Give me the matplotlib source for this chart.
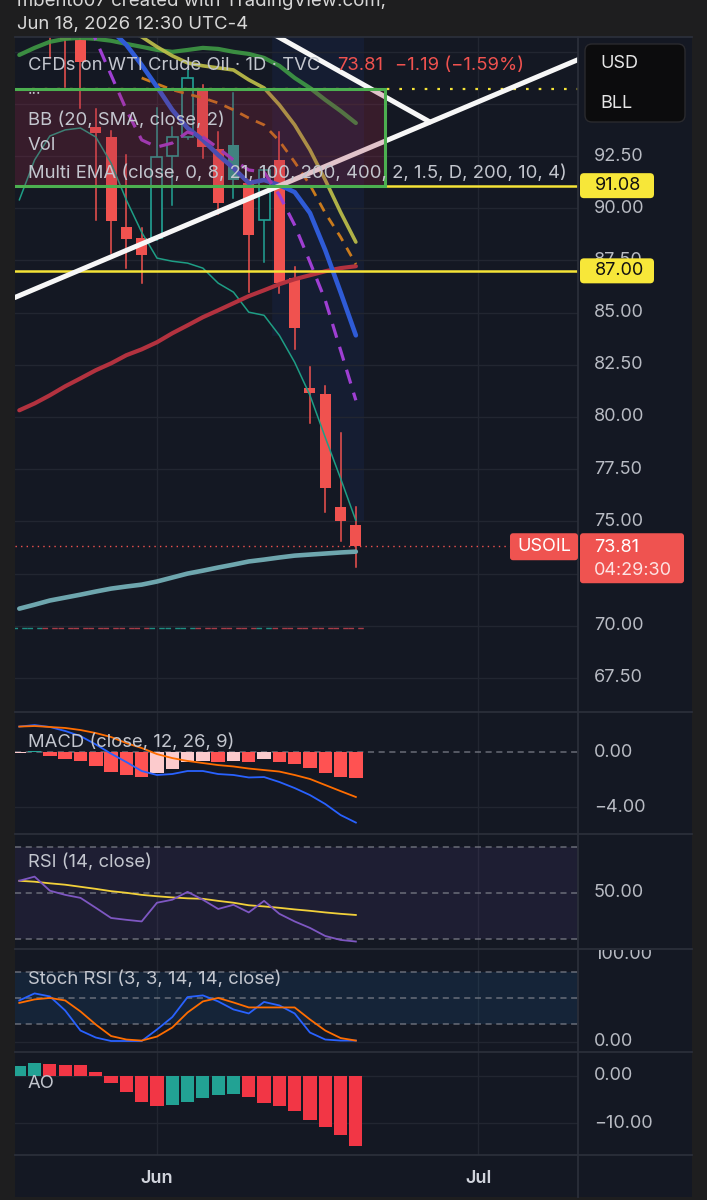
import matplotlib.pyplot as plt
from matplotlib.patches import Rectangle, FancyBboxPatch
from matplotlib.lines import Line2D
from matplotlib.transforms import Affine2D, Bbox, blended_transform_factory

plt.rcParams['font.family'] = ['Inter', 'DejaVu Sans']

# ---------------- data (x = trading-day index, 0 = Jun 1 2026) ----------------
first_idx = -9          # first bar index that has indicator values
candle_first = -7       # first candle drawn (earlier ones are above the view)

opens = [99.5, 98.8, 98.06, 93.9, 93.41, 89.1, 88.57, 88.57, 92.5, 93.41, 95.76,
         92.84, 93.03, 91.2, 89.43, 92.31, 86.65, 81.37, 81.08, 75.67, 74.85]
highs = [100.0, 99.5, 98.3, 94.75, 93.7, 92.55, 89.05, 94.8, 93.9, 96.6, 95.9,
         93.65, 95.5, 91.35, 92.0, 93.65, 87.2, 82.38, 81.5, 79.21, 75.7]
lows = [97.19, 95.8, 94.8, 89.43, 87.85, 87.14, 86.42, 88.5, 90.15, 93.3, 92.4,
        89.7, 90.5, 85.98, 87.4, 85.94, 83.24, 79.7, 75.47, 74.08, 72.8]
closes = [98.8, 98.05, 97.0, 93.6, 89.38, 88.53, 87.76, 92.45, 93.41, 96.24, 92.93,
          90.25, 91.35, 88.7, 91.83, 86.41, 84.25, 81.13, 76.58, 75.0, 73.81]
last_price = 73.81

# Multi EMA / BB lines (start index, values)
ema_green = (-9, [97.34, 97.68, 97.97, 98.11, 98.16, 98.11, 98.02, 97.87, 97.73, 97.58, 97.49, 97.58,
                  97.68, 97.63, 97.49, 97.39, 97.20, 96.82, 96.24, 95.76, 95.19, 94.66, 94.08])
ema_olive = (-2, [98.54, 98.21, 97.73, 97.30, 96.96, 96.82, 96.72, 96.62, 96.15, 95.76, 94.95,
                  93.99, 92.79, 91.35, 89.81, 88.38])
ema_orange = (-1, [96.24, 95.95, 95.67, 95.47, 95.28, 95.04, 94.71, 94.32, 93.99, 93.22, 92.21,
                   91.11, 89.77, 88.62, 87.32])
ema_blue = (-3, [98.54, 97.82, 96.86, 95.81, 94.71, 93.84, 93.27, 92.55, 91.92, 91.21, 91.35,
                 91.11, 90.77, 89.77, 87.99, 85.98, 83.91])
ema_purple = (-5, [99.74, 98.06, 96.38, 94.71, 93.27, 92.93, 93.12, 93.65, 93.41, 92.88, 92.31,
                   91.83, 91.73, 90.63, 89.19, 87.42, 85.59, 83.20, 80.80])
ema_red = (-9, [80.32, 80.65, 81.04, 81.47, 81.85, 82.24, 82.57, 82.96, 83.24, 83.58, 84.01, 84.39,
                84.78, 85.11, 85.45, 85.79, 86.07, 86.36, 86.60, 86.79, 86.98, 87.13, 87.22])
ema_slate = (-9, [70.82, 71.01, 71.21, 71.35, 71.49, 71.64, 71.78, 71.88, 71.97, 72.12, 72.31, 72.50,
                  72.64, 72.79, 72.93, 73.08, 73.17, 73.27, 73.36, 73.41, 73.46, 73.51, 73.55])
bb_lower = (-9, [90.39, 92.31, 93.46, 93.75, 93.84, 93.41, 92.16, 90.39, 88.85, 87.61, 87.46, 87.37,
                 87.13, 86.41, 85.98, 85.02, 84.87, 83.91, 82.62, 81.04, 79.02, 77.06, 75.04])
bb_fill_from = 8        # band shading is visible from this bar on
base_level = 69.9
base_up_before = [True, True]     # bars -9, -8 (candles off view)

# drawings
support_levels = [91.08, 87.00]
dotted_level = 95.73
rising_line = ([-9.3, 27.6], [85.72, 97.14])
falling_line = ([6.0, 17.84], [99.0, 94.13])
zone = (-12.0, 14.9, 91.08, 95.73)   # x0, x1, y0, y1

# indicators (index -9 .. 13)
macd_line = [1.85, 1.96, 1.82, 1.53, 1.16, 0.55, -0.12, -0.73, -1.38, -1.67, -1.60, -1.38,
             -1.38, -1.60, -1.67, -1.85, -1.82, -2.18, -2.62, -3.13, -3.78, -4.58, -5.13]
macd_signal = [1.85, 1.89, 1.82, 1.75, 1.60, 1.38, 1.09, 0.65, 0.29, -0.15, -0.44, -0.65,
               -0.80, -0.95, -1.05, -1.20, -1.31, -1.42, -1.67, -1.96, -2.40, -2.84, -3.27]
macd_hist = [-0.10, 0.10, -0.27, -0.50, -0.68, -1.02, -1.43, -1.70, -1.84, -1.50, -1.21, -0.70,
             -0.63, -0.70, -0.63, -0.73, -0.53, -0.73, -0.90, -1.16, -1.55, -1.80, -1.89]
rsi = [55.2, 57.0, 50.9, 49.1, 47.8, 43.5, 39.1, 38.3, 37.6, 45.7, 47.0, 50.4,
       47.0, 43.0, 44.8, 41.5, 46.5, 40.9, 37.6, 34.8, 31.3, 29.6, 28.9]
rsi_ma = [55.2, 54.8, 54.1, 53.5, 52.6, 51.7, 50.7, 50.0, 49.1, 48.5, 48.0, 47.6,
          47.4, 46.5, 45.7, 44.6, 44.1, 43.5, 42.8, 42.2, 41.5, 40.9, 40.4]
stoch_k = [47.1, 55.2, 51.7, 35.6, 12.6, 4.6, 0.6, 0.6, 0.6, 13.8, 28.0, 51.0,
           52.9, 46.0, 36.8, 32.2, 45.4, 41.4, 32.2, 10.3, 2.3, 1.1, 1.1]
stoch_d = [44.3, 48.3, 50.0, 47.1, 34.5, 19.5, 6.3, 2.3, 1.1, 5.7, 16.1, 33.3,
           46.0, 50.0, 44.8, 39.1, 39.1, 39.1, 39.1, 25.3, 12.6, 4.0, 1.1]
ao = [2.2, 2.85, 2.55, 2.3, 2.3, 0.9, -1.4, -3.45, -5.4, -6.3, -6.2, -5.4,
      -4.65, -4.0, -3.9, -4.5, -5.65, -6.3, -7.3, -9.3, -10.85, -12.5, -14.7]

month_ticks = [0, 21]
month_labels = ['Jun', 'Jul']
price_grid = [67.5, 70.0, 72.5, 75.0, 77.5, 80.0, 82.5, 85.0, 87.5, 90.0, 92.5, 95.0, 97.5]
price_labels = [67.5, 70.0, 75.0, 77.5, 80.0, 82.5, 85.0, 87.5, 90.0, 92.5]

# ---------------- style ----------------
FRAME = '#1e1e1f'
BG = '#141823'
GRID = '#222631'
SEP = '#2b2f3a'
TXT = '#c3c6ce'
AXT = '#b8bbc3'
RED = '#f0524f'
TEAL = '#22a294'
PINK = '#fccbcd'
DASH = '#7d808a'
LFS = 13.3

W, H = 707, 1200
fig = plt.figure(figsize=(W / 100, H / 100), dpi=100)
fig.patch.set_facecolor(FRAME)
PX = Affine2D().scale(0.01, -0.01).translate(0, H / 100) + fig.dpi_scale_trans

fig.add_artist(Rectangle((15, 37), 677, 1160, transform=PX, fc=BG, ec='none', zorder=-5))

XL, XR = 15, 578
XLIM = (-9.28, 27.52)


def add_pane(top, bottom, ylim):
    ax = fig.add_axes([XL / W, 1 - bottom / H, (XR - XL) / W, (bottom - top) / H])
    ax.set_facecolor('none')
    for s in ax.spines.values():
        s.set_visible(False)
    ax.set_xlim(*XLIM)
    ax.set_ylim(*ylim)
    ax.set_xticks([])
    ax.tick_params(axis='y', length=0, labelleft=False)
    for m in month_ticks:
        ax.axvline(m, color=GRID, lw=1, zorder=0)
    return ax


def xs(start, n):
    return list(range(start, start + n))


def axis_label(ax, v, s, clip=None):
    t = fig.text(594, v, s, transform=blended_transform_factory(PX, ax.transData),
                 va='center', ha='left', fontsize=13, color=AXT, zorder=6)
    if clip is not None:
        t.set_clip_box(Bbox.from_extents(clip[0], H - clip[3], clip[2], H - clip[1]))
        t.set_clip_on(True)
    return t


def level_py(ax, v):
    return H - ax.transData.transform((0, v))[1]


# ---------------- price pane ----------------
ax = add_pane(37, 712, (65.87, 98.20))
ax.set_yticks(price_grid)
ax.grid(axis='y', color=GRID, lw=1, zorder=0)

bx, bv = bb_lower
fx = [i for i in xs(bx, len(bv)) if i >= bb_fill_from]
fv = bv[bb_fill_from - bx:]
ax.fill_between([fx[0] - 0.5] + fx + [fx[-1] + 0.5], [fv[0]] + fv + [fv[-1]], 110,
                color='#2962ff', alpha=0.07, lw=0, zorder=1)

# candles
prev_close = None
for k in range(len(opens)):
    i = candle_first + k
    o, h, l, c = opens[k], highs[k], lows[k], closes[k]
    lo_b, hi_b = min(o, c), max(o, c)
    if c > o:
        ax.plot([i, i], [hi_b, h], color=TEAL, lw=1.1, zorder=3)
        ax.plot([i, i], [l, lo_b], color=TEAL, lw=1.1, zorder=3)
        ax.add_patch(Rectangle((i - 0.36, lo_b), 0.72, hi_b - lo_b, fc=BG, ec=TEAL, lw=1.2, zorder=3))
    else:
        col = TEAL if (prev_close is not None and c > prev_close) else RED
        ax.plot([i, i], [l, h], color=col, lw=1.1, zorder=3)
        ax.add_patch(Rectangle((i - 0.36, lo_b), 0.72, max(hi_b - lo_b, 0.12), fc=col, ec='none', zorder=3))
    prev_close = c

# base dashed line, coloured per bar
base_up = base_up_before + [c > o for o, c in zip(opens, closes)]
for k, up in enumerate(base_up):
    i = first_idx + k
    ax.plot([i - 0.5, i + 0.5], [base_level, base_level], color=TEAL if up else '#c2434f',
            lw=1.0, dashes=(4, 3), alpha=0.85, zorder=2)

for (st, vals), col, lw, ds, al in [
        (bb_lower, '#1e9e85', 1.1, None, 1),
        (ema_slate, '#6ea6ae', 3.3, None, 1),
        (ema_red, '#b3323f', 3.0, None, 1),
        (ema_green, '#3f9a45', 3.0, None, 0.9),
        (ema_olive, '#c1c24a', 2.6, None, 0.9),
        (ema_orange, '#c97a1c', 2.0, (3.5, 2.8), 1),
        (ema_blue, '#2f5bd6', 3.3, None, 1),
        (ema_purple, '#9f3fd3', 2.3, (4.5, 3.0), 1)]:
    kw = dict(color=col, lw=lw, alpha=al, zorder=4, solid_capstyle='round')
    if ds:
        kw['dashes'] = ds
    ax.plot(xs(st, len(vals)), vals, **kw)

# drawings
for lvl in support_levels:
    ax.axhline(lvl, color='#f5e337', lw=1.8, zorder=5)
ax.axhline(dotted_level, xmin=0.03, color='#f5e337', lw=1.6, dashes=(1.2, 4.5), zorder=5)
ax.plot(*rising_line, color='#f7f7f7', lw=3.6, solid_capstyle='round', zorder=5)
ax.plot(*falling_line, color='#f7f7f7', lw=3.6, solid_capstyle='round', zorder=5)
zx0, zx1, zy0, zy1 = zone
ax.add_patch(Rectangle((zx0, zy0), zx1 - zx0, zy1 - zy0, fc='#a02846', alpha=0.25, ec='none', zorder=6))
ax.add_patch(Rectangle((zx0, zy0), zx1 - zx0, zy1 - zy0, fc='none', ec='#4caf50', lw=2.2, zorder=6))
ax.axhline(last_price, xmax=(510 - XL) / (XR - XL), color=RED, lw=1.0, dashes=(1, 3), zorder=6)

for v in price_labels:
    axis_label(ax, v, f'{v:.2f}')

# legend text
fig.text(28, 66, 'CFDs on WTI Crude Oil · 1D · TVC', transform=PX, va='center', fontsize=LFS, color=TXT, zorder=8)
fig.text(337, 66, '73.81', transform=PX, va='center', fontsize=LFS, color=RED, zorder=8)
fig.text(395, 66, '\u22121.19 (\u22121.59%)', transform=PX, va='center', fontsize=LFS, color=RED, zorder=8)
fig.text(28, 94, '···', transform=PX, va='center', fontsize=11, color=TXT, zorder=8)
fig.text(28, 120, 'BB (20, SMA, close, 2)', transform=PX, va='center', fontsize=LFS, color=TXT, zorder=8)
fig.text(28, 146, 'Vol', transform=PX, va='center', fontsize=LFS, color=TXT, zorder=8)
fig.text(28, 173, 'Multi EMA (close, 0, 8, 21, 100, 200, 400, 2, 1.5, D, 200, 10, 4)', transform=PX,
         va='center', fontsize=LFS, color=TXT, zorder=8)

# price tags
for lvl in support_levels:
    py = level_py(ax, lvl)
    fig.add_artist(FancyBboxPatch((580, py - 12.5), 74, 25, boxstyle='round,pad=0,rounding_size=4',
                                  transform=PX, fc='#f7e739', ec='none', zorder=10))
    fig.text(595, py, f'{lvl:.2f}', transform=PX, va='center', fontsize=13, color='#111111', zorder=11)

py = level_py(ax, last_price)
fig.add_artist(FancyBboxPatch((510, py - 13), 68, 27, boxstyle='round,pad=0,rounding_size=3',
                              transform=PX, fc='#ef5350', ec='none', zorder=10))
fig.text(517, py, 'USOIL', transform=PX, va='center', fontsize=13, color='white', zorder=11)
fig.add_artist(FancyBboxPatch((580, py - 13), 104, 50, boxstyle='round,pad=0,rounding_size=3',
                              transform=PX, fc='#ef5350', ec='none', zorder=10))
fig.text(594, py + 1, f'{last_price:.2f}', transform=PX, va='center', fontsize=13, color='white', zorder=11)
fig.text(594, py + 24, '04:29:30', transform=PX, va='center', fontsize=13, color='#fde3e3', zorder=11)

fig.add_artist(FancyBboxPatch((585, 44), 100, 78, boxstyle='round,pad=0,rounding_size=7',
                              transform=PX, fc='#0c0c0d', ec='#2a2a2e', lw=1, zorder=10))
fig.text(600, 63, 'USD', transform=PX, va='center', fontsize=13, color='#e6e6e6', zorder=11)
fig.text(600, 103, 'BLL', transform=PX, va='center', fontsize=13, color='#e6e6e6', zorder=11)

# ---------------- MACD ----------------
axm = add_pane(712, 834, (-5.96, 2.91))
axm.axhline(-4, color=GRID, lw=1, zorder=0)
axm.axhline(0, color=DASH, lw=1.1, dashes=(4, 3), alpha=0.8, zorder=1)
hist_cols = []
for k, v in enumerate(macd_hist):
    rising = k == 0 or v > macd_hist[k - 1]
    if v >= 0:
        hist_cols.append('#26a69a' if rising else '#b2dfdb')
    else:
        hist_cols.append(PINK if rising else '#ff5252')
axm.bar(xs(first_idx, len(macd_hist)), macd_hist, width=0.88, color=hist_cols, zorder=2)
axm.plot(xs(first_idx, len(macd_line)), macd_line, color='#2962ff', lw=1.3, zorder=3)
axm.plot(xs(first_idx, len(macd_signal)), macd_signal, color='#ff6d00', lw=1.3, zorder=3)
fig.text(28, 742, 'MACD (close, 12, 26, 9)', transform=PX, va='center', fontsize=LFS, color=TXT, zorder=8)
axis_label(axm, 0, '0.00')
axis_label(axm, -4, '\u22124.00')

# ---------------- RSI ----------------
axr = add_pane(834, 949, (25.67, 75.45))
axr.axhspan(30, 70, color='#7e57c2', alpha=0.1, lw=0, zorder=0)
for lv in (70, 50, 30):
    axr.axhline(lv, color=DASH, lw=1.1, dashes=(4, 3), alpha=0.8, zorder=1)
axr.plot(xs(first_idx, len(rsi_ma)), rsi_ma, color='#f2d13a', lw=1.3, zorder=3)
axr.plot(xs(first_idx, len(rsi)), rsi, color='#7e57c2', lw=1.3, zorder=3)
fig.text(28, 862, 'RSI (14, close)', transform=PX, va='center', fontsize=LFS, color=TXT, zorder=8)
axis_label(axr, 50, '50.00')

# ---------------- Stoch RSI ----------------
axs = add_pane(949, 1052, (-12.0, 106.1))
axs.axhspan(20, 80, color='#2196f3', alpha=0.1, lw=0, zorder=0)
axs.axhline(0, color=GRID, lw=1, zorder=0)
for lv in (80, 50, 20):
    axs.axhline(lv, color=DASH, lw=1.1, dashes=(4, 3), alpha=0.8, zorder=1)
axs.plot(xs(first_idx, len(stoch_k)), stoch_k, color='#2962ff', lw=1.3, zorder=3)
axs.plot(xs(first_idx, len(stoch_d)), stoch_d, color='#ff6d00', lw=1.3, zorder=3)
fig.text(28, 979, 'Stoch RSI (3, 3, 14, 14, close)', transform=PX, va='center', fontsize=LFS, color=TXT, zorder=8)
axis_label(axs, 100, '100.00', clip=(578, 950, 692, 1052))
axis_label(axs, 0, '0.00')

# ---------------- AO ----------------
axa = add_pane(1052, 1155, (-16.7, 5.07))
axa.axhline(0, color=GRID, lw=1, zorder=0)
axa.axhline(-10, color=GRID, lw=1, zorder=0)
ao_cols = [TEAL if (k == 0 or v > ao[k - 1]) else '#f23645' for k, v in enumerate(ao)]
axa.bar(xs(first_idx, len(ao)), ao, width=0.86, color=ao_cols, zorder=2)
fig.text(28, 1083, 'AO', transform=PX, va='center', fontsize=LFS, color=TXT, zorder=8)
axis_label(axa, 0, '0.00')
axis_label(axa, -10, '\u221210.00')
axa.set_xticks(month_ticks)
axa.set_xticklabels(month_labels, fontweight='semibold')
axa.tick_params(axis='x', length=0, pad=11, labelsize=13, labelcolor='#d1d4dc')

# ---------------- frame lines & header ----------------
for y in (37, 712, 834, 949, 1052, 1155):
    fig.add_artist(Line2D([15, 692], [y, y], transform=PX, color=SEP, lw=1.3, zorder=7))
fig.add_artist(Line2D([XR, XR], [37, 1197], transform=PX, color=SEP, lw=1.3, zorder=7))

fig.text(17, 1, 'mbento07 created with TradingView.com,', transform=PX, va='center', fontsize=13.4, color='#d8d8d8')
fig.text(17, 24, 'Jun 18, 2026 12:30 UTC-4', transform=PX, va='center', fontsize=13.4, color='#d8d8d8')

fig.savefig('out.png', dpi=100, facecolor=FRAME)
